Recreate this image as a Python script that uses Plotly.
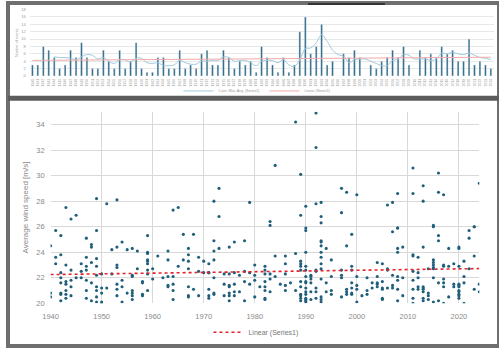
import numpy as np
import pandas as pd
import plotly.graph_objects as go

# ---------------- data ----------------
years = list(range(1940, 2025))
events_per_year = [3, 3, 8, 7, 5, 2, 3, 7, 5, 9,
                   5, 2, 2, 7, 4, 2, 7, 2, 4, 9,
                   2, 1, 1, 5, 5, 2, 2, 7, 2, 3,
                   2, 6, 7, 3, 3, 7, 5, 2, 4, 3,
                   4, 1, 8, 5, 3, 1, 5, 1, 3, 12,
                   16, 6, 8, 14, 3, 4, 0, 6, 5, 7,
                   5, 0, 3, 2, 4, 5, 7, 5, 8, 3,
                   0, 7, 5, 6, 5, 8, 6, 7, 4, 4,
                   10, 3, 4, 3, 2]

# wind speeds of events, one list per year, grouped by decade
speeds_1940s = [[24.5, 20.8, 20.5], [25.7, 23.6, 23.1],
                [25.3, 23.8, 22.4, 22.0, 21.6, 20.8, 20.7, 20.2],
                [27.5, 23.0, 21.7, 21.5, 21.0, 20.7, 20.4],
                [26.6, 22.6, 21.8, 21.3, 20.6], [26.9, 22.0], [23.1, 22.5, 22.0],
                [25.1, 23.6, 22.9, 22.6, 21.8, 21.0, 20.4],
                [24.6, 24.4, 23.2, 21.6, 20.2],
                [28.2, 25.7, 23.5, 22.9, 22.2, 21.3, 21.0, 20.5, 20.1]]
speeds_1950s = [[22.3, 21.2, 20.8, 20.1, 20.0], [27.8, 21.2], [24.2, 22.3],
                [28.1, 24.4, 23.0, 22.8, 21.5, 21.1, 20.6], [24.8, 21.8, 21.3, 20.1],
                [24.2, 20.8], [24.3, 22.2, 22.1, 21.0, 20.8, 20.6, 20.3], [24.1, 22.7],
                [21.7, 21.6, 20.7, 20.6],
                [25.3, 24.0, 23.9, 23.4, 23.3, 23.1, 22.6, 22.3, 21.0]]
speeds_1960s = [[22.7, 21.9], [23.7], [22.0], [24.1, 23.4, 22.1, 21.4, 21.3],
                [27.3, 22.1, 21.5, 21.0, 20.3], [27.5, 22.9], [25.4, 23.4],
                [24.3, 23.8, 23.3, 22.7, 21.3, 20.6, 20.5], [25.4, 21.1],
                [23.6, 22.5, 20.6]]
speeds_1970s = [[23.3, 22.4], [23.1, 22.4, 22.4, 21.1, 20.6, 20.4],
                [28.0, 24.9, 24.1, 23.4, 22.0, 20.8, 20.7], [29.0, 26.8, 24.3],
                [22.3, 21.5, 20.6], [24.4, 22.3, 21.4, 21.3, 20.8, 20.6, 20.2],
                [24.8, 22.4, 21.5, 20.9, 20.6], [22.2, 20.9], [24.9, 22.5, 21.7, 20.2],
                [27.9, 22.4, 21.5]]
speeds_1980s = [[23.0, 22.2, 21.8, 20.5], [21.3],
                [22.9, 22.6, 22.3, 21.7, 21.3, 21.0, 20.4, 20.3],
                [26.4, 26.1, 22.3, 21.9, 20.9], [30.8, 23.7, 22.1], [21.5],
                [23.7, 23.1, 22.3, 21.4, 21.0], [21.6], [34.2, 23.9, 21.0],
                [30.1, 26.9, 23.3, 23.1, 22.9, 22.6, 21.7, 21.3, 20.7, 20.6, 20.4, 20.2]]
speeds_1990s = [[27.6, 25.9, 25.7, 24.0, 22.9, 22.6, 22.1, 21.7, 21.6, 21.2, 20.9, 20.7,
                 20.4, 20.3, 20.2, 20.1],
                [22.2, 22.1, 21.9, 21.6, 20.9, 20.3],
                [34.9, 32.2, 27.8, 22.6, 22.5, 21.2, 20.9, 20.4],
                [27.9, 26.8, 26.3, 24.9, 24.8, 24.5, 24.0, 23.6, 23.1, 22.7, 21.9, 20.5,
                 20.3, 20.1],
                [24.3, 21.6, 20.9], [23.4, 22.1, 21.0, 20.7], [],
                [29.0, 27.1, 22.6, 22.2, 22.0, 20.5], [28.7, 24.5, 21.1, 20.9, 20.7],
                [25.4, 22.9, 22.6, 21.6, 21.2, 20.8, 20.7]]
speeds_2000s = [[28.5, 22.1, 21.4, 21.1, 20.1], [20.6], [22.0, 21.0, 20.7], [21.6, 21.2],
                [23.2, 22.1, 21.6, 21.5, 21.3], [23.1, 21.7, 21.2, 21.1, 20.4, 20.3],
                [27.7, 22.7, 22.6, 21.2], [27.9, 25.6, 22.2, 21.4, 21.2],
                [28.6, 25.9, 25.9, 24.3, 24.0, 22.1, 21.8, 21.1, 20.2],
                [24.4, 22.0, 20.6]]
speeds_2010s = [[], [30.6, 28.6, 23.8, 23.7, 22.5, 21.8, 21.1, 20.4, 20.0],
                [23.6, 22.4, 22.0, 21.3, 21.1],
                [29.2, 28.0, 24.4, 21.3, 21.2, 21.1, 20.9, 20.4, 20.2],
                [22.7, 20.8, 20.6, 20.3],
                [26.1, 26.0, 23.4, 23.2, 23.0, 22.8, 22.7, 22.0, 20.1],
                [30.2, 28.7, 25.3, 24.9, 21.6, 20.2],
                [28.5, 23.0, 22.9, 21.9, 21.6, 21.3, 20.0], [24.3, 22.9, 20.5],
                [23.1, 21.5, 21.3]]
speeds_2020s = [[24.4, 24.3, 22.9, 21.5, 21.4, 21.3, 21.0, 20.9, 20.7, 20.6, 20.4],
                [23.3, 22.1, 21.6, 20.0], [25.7, 25.1, 22.7], [26.0, 26.0, 23.7, 21.1],
                [29.4, 21.5, 20.9]]

# linear trend of wind speed, as drawn (value at 1940 and at 2024)
trend_years = [1940, 2024]
trend_speeds = [22.25, 22.72]

# ---------------- derived ----------------
all_decades = speeds_1940s + speeds_1950s + speeds_1960s + speeds_1970s + \
    speeds_1980s + speeds_1990s + speeds_2000s + speeds_2010s + speeds_2020s
ev_x, ev_y = [], []
for yr, lst in zip(years, all_decades):
    for v in lst:
        ev_x.append(yr)
        ev_y.append(v)

ma5 = pd.Series(events_per_year, dtype=float).rolling(5).mean()
coef = np.polyfit(years, events_per_year, 1)
lin_top = np.polyval(coef, years)

BAR = "#1f5f7b"
W, H = 499, 351


def px_x(p):
    return p / W


def px_y(p):
    return 1 - p / H


fig = go.Figure()

# top panel
fig.add_trace(go.Bar(x=years, y=events_per_year, marker_color=BAR, width=0.32,
                     showlegend=False, xaxis="x", yaxis="y"))
fig.add_trace(go.Scatter(x=years, y=ma5, mode="lines", name="5 per. Mov. Avg. (Series1)",
                         line=dict(color="#9fcadd", width=1, shape="spline"),
                         xaxis="x", yaxis="y", legend="legend2"))
fig.add_trace(go.Scatter(x=years, y=lin_top, mode="lines", name="Linear (Series1)",
                         line=dict(color="#f2a9a9", width=1),
                         xaxis="x", yaxis="y", legend="legend2"))

# bottom panel
fig.add_trace(go.Scatter(x=ev_x, y=ev_y, mode="markers", showlegend=False,
                         marker=dict(color=BAR, size=3.1),
                         xaxis="x2", yaxis="y2"))
fig.add_trace(go.Scatter(x=trend_years, y=trend_speeds, mode="lines",
                         name="Linear (Series1)",
                         line=dict(color="#e3212b", width=1.6, dash="dot"),
                         xaxis="x2", yaxis="y2", legend="legend"))

GRAY = "#8a8a8a"
fig.update_layout(
    width=W, height=H, margin=dict(l=0, r=0, t=0, b=0),
    paper_bgcolor="white", plot_bgcolor="white",
    font=dict(family="Liberation Sans, Arial, sans-serif", color=GRAY),
    xaxis=dict(domain=[px_x(22), px_x(493.5)], range=[1939.5, 2024.5], anchor="y",
               tickmode="array", tickvals=years, ticktext=[str(y) for y in years],
               tickangle=-90, tickfont=dict(size=3.5, color="#9a9a9a"),
               showgrid=False, zeroline=False, showline=False, ticklabelstandoff=1),
    yaxis=dict(domain=[px_y(74.7), px_y(6.7)], range=[0, 18], dtick=2, anchor="x",
               tickfont=dict(size=4, color="#9a9a9a"), gridcolor="#e8e8e8",
               zeroline=False, showline=False, ticklabelstandoff=3,
               title=dict(text="Number of events", font=dict(size=3.6, color="#9a9a9a"),
                          standoff=2)),
    xaxis2=dict(domain=[px_x(43.3), px_x(479)], range=[1940, 2024], anchor="y2",
                tickmode="array", tickvals=list(range(1940, 2021, 10)),
                tickfont=dict(size=7.5, color=GRAY), gridcolor="#d9d9d9",
                zeroline=False, showline=False, ticklabelstandoff=7),
    yaxis2=dict(domain=[px_y(307.3), px_y(111.3)], range=[20, 35], anchor="x2",
                tickmode="array", tickvals=list(range(20, 35, 2)),
                tickfont=dict(size=7.5, color=GRAY), gridcolor="#d9d9d9",
                zeroline=False, showline=False, ticklabelstandoff=5,
                title=dict(text="Average wind speed [m/s]",
                           font=dict(size=8, color=GRAY), standoff=6)),
    legend=dict(orientation="h", x=px_x(252), xanchor="center", y=px_y(337),
                yanchor="middle", font=dict(size=7, color="#777777"),
                bgcolor="rgba(0,0,0,0)", itemwidth=30),
    legend2=dict(orientation="h", x=px_x(253), xanchor="center", y=px_y(90),
                 yanchor="middle", font=dict(size=3.6, color="#9a9a9a"),
                 bgcolor="rgba(0,0,0,0)", itemwidth=30, tracegroupgap=0),
    shapes=[
        dict(type="rect", xref="paper", yref="paper", x0=0, x1=1, y0=0, y1=1,
             line=dict(color="#6e6e6e", width=4), layer="above"),
        dict(type="rect", xref="paper", yref="paper", x0=0, x1=1,
             y0=px_y(100), y1=px_y(95), fillcolor="#5c5c5c", line=dict(width=0),
             layer="above"),
        dict(type="rect", xref="paper", yref="paper", x0=px_x(305), x1=px_x(383),
             y0=px_y(2), y1=1, fillcolor="#333333", line=dict(width=0), layer="above"),
    ],
)

fig.write_html("out.html")
